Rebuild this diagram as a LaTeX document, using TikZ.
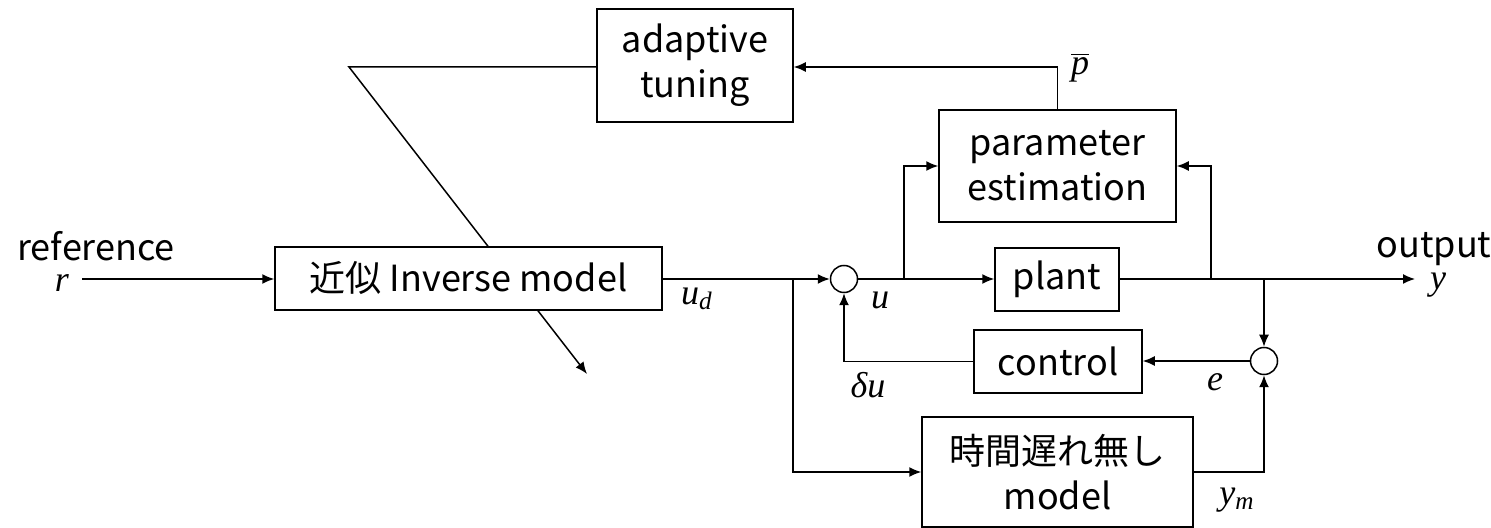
\documentclass[tikz,border=0pt]{standalone}
\usepackage{fontspec}
\usetikzlibrary{arrows.meta,backgrounds,calc}
\newfontfamily\jp{Noto Sans CJK JP}
\newfontfamily\tm{Liberation Serif}
\begin{document}
\begin{tikzpicture}[x=0.5pt,y=-0.5pt,
  line width=0.75pt,
  arr/.style={line width=0.75pt,-{Latex[length=6pt,width=5pt]}},
  blk/.style={draw,fill=white,inner sep=0pt,align=center,font=\jp\fontsize{18}{22.5}\selectfont},
  sumj/.style={draw,fill=white,circle,inner sep=0pt,minimum size=13.5pt},
  lbl/.style={inner sep=0pt,font=\jp\fontsize{18}{22.5}\selectfont},
  var/.style={inner sep=0pt,font=\tm\itshape\fontsize{18}{20}\selectfont}]
\useasboundingbox (0,0) rectangle (1491,528);
% blocks
\node[blk,minimum width=98pt,minimum height=56.5pt] (adapt) at (695,65.5) {adaptive\\tuning};
\node[blk,minimum width=193.5pt,minimum height=31.5pt] (inv) at (468.5,278.5) {近似 Inverse model};
\node[blk,minimum width=118.5pt,minimum height=56pt] (param) at (1057.5,166) {parameter\\estimation};
\node[blk,minimum width=62pt,minimum height=31.5pt] (plant) at (1057,279.5) {plant};
\node[blk,minimum width=84pt,minimum height=31.5pt] (ctrl) at (1058,361.5) {control};
\node[blk,minimum width=135.5pt,minimum height=55pt] (model) at (1057.5,472) {時間遅れ無し\\model};
\node[sumj] (s1) at (844,279) {};
\node[sumj] (s2) at (1264,361) {};
% coordinates
\coordinate (rin) at (82,279);
\coordinate (k) at (349,67);
\coordinate (tip) at (587,374);
\coordinate (out) at (1415,279);
\coordinate (ja) at (793,279);
\coordinate (jb) at (904,279);
\coordinate (jc) at (1211,279);
\coordinate (jd) at (1264,279);
% diagonal behind inverse model
\begin{scope}[on background layer]
\draw[arr] (adapt.west |- k) -- (k) -- (tip);
\end{scope}
% connectors
\draw[arr] (rin) -- (inv.west |- rin);
\draw[arr] (inv.east |- s1) -- (s1.west);
\draw[arr] (ja) |- (model.west);
\draw[arr] (s1.east) -- (plant.west |- s1);
\draw[arr] (jb) |- (param.west);
\draw[arr] (plant.east |- out) -- (out);
\draw[arr] (jc) |- (param.east);
\draw[arr] (jd) -- (s2.north);
\draw[arr] (s2.west) -- (ctrl.east |- s2);
\draw[arr] (ctrl.west) -| (s1.south);
\draw[arr] (model.east) -| (s2.south);
\draw[arr] (param.north) |- (adapt.east |- k);
% labels
\node[lbl] (tref) at (96,246) {reference};
\node[var] (tr) at (62,283) {r};
\node[var] (tud) at (697,299) {u\textsubscript{d}};
\node[var] (tu) at (880,300) {u};
\node[var] (tdu) at (868,385) {δu};
\node[var] (te) at (1215,382) {e};
\node[var] (tym) at (1237,500) {y\textsubscript{m}};
\node[lbl] (tout) at (1434,249) {output};
\node[var] (ty) at (1438,285) {y};
\node[var] (tp) at (1080,68) {$\overline{\hbox{\tm\itshape p}}$};
\end{tikzpicture}
\end{document}
